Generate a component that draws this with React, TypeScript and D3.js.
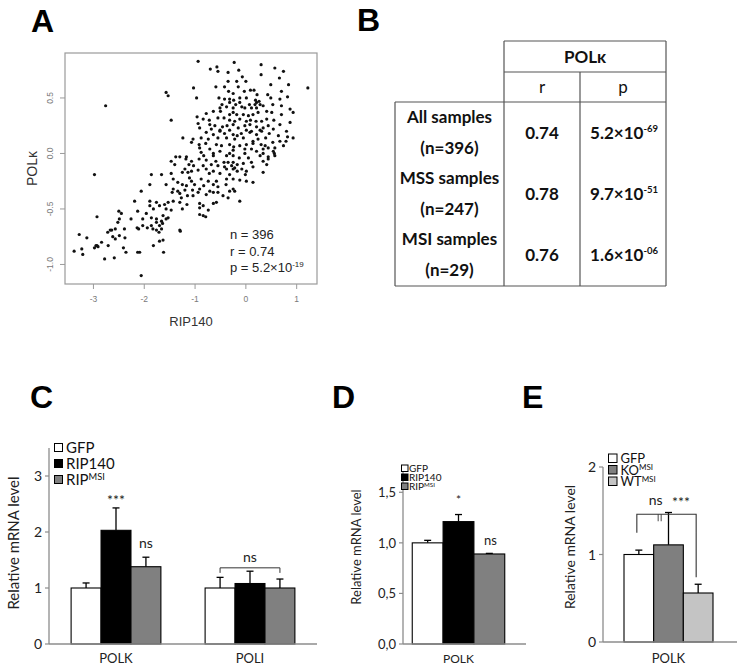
import React from 'react';
import * as d3 from 'd3';

// ---------- Panel A data (RIP140 vs POLκ) ----------
const scatterPoints: [number, number][] = [
  [-0.94,0.83],[-0.23,0.82],[0.30,0.80],[-0.57,0.78],[0.57,0.77],[-0.70,0.76],[-0.55,0.74],[-0.14,0.75],[-0.35,0.73],[0.74,0.74],[0.30,0.71],[-0.07,0.69],[0.66,0.68],[-0.18,0.65],[-0.35,0.65],[0.00,0.65],[0.84,0.62],[0.49,0.62],[-0.59,0.60],[-0.42,0.60],[-0.15,0.60],[-1.03,0.59],[1.22,0.59],
  [0.09,0.57],[0.16,0.57],[0.70,0.56],[-1.57,0.55],[-1.53,0.52],[-0.34,0.56],[-0.25,0.54],[-0.03,0.56],[0.22,0.53],[0.43,0.53],[-0.97,0.50],[-0.53,0.50],[-0.42,0.49],[-0.32,0.49],[-0.24,0.48],[-0.12,0.50],[0.01,0.50],[0.49,0.50],[0.67,0.49],[0.82,0.51],[0.19,0.48],[0.21,0.46],[0.26,0.47],[0.28,0.44],[0.18,0.44],[0.07,0.44],[-0.12,0.46],[-0.20,0.44],[-0.32,0.46],[-0.47,0.44],[-0.51,0.41],[-0.38,0.42],[-0.25,0.41],[-0.08,0.42],[-0.02,0.41],[0.11,0.41],[0.21,0.41],[0.34,0.43],[0.53,0.44],[0.70,0.43],[-2.76,0.43],[0.87,0.40],
  [-0.78,0.36],[-0.64,0.38],[-0.50,0.38],[-0.32,0.35],[-0.25,0.37],[-0.18,0.35],[-0.05,0.35],[0.05,0.34],[0.14,0.35],[0.24,0.37],[0.41,0.38],[0.51,0.37],[0.70,0.35],[0.93,0.37],[-0.96,0.33],[-0.84,0.31],[-0.72,0.30],[-0.55,0.32],[-0.43,0.32],[-0.32,0.30],[-0.22,0.29],[-0.12,0.31],[0.01,0.29],[0.09,0.30],[0.20,0.29],[0.31,0.29],[0.41,0.31],[0.55,0.30],[-1.47,0.30],[-0.94,0.27],[-0.71,0.26],[-0.61,0.25],[-0.46,0.24],[-0.37,0.25],[-0.25,0.26],[-0.15,0.23],[-0.02,0.25],[0.08,0.26],[0.21,0.24],[0.34,0.23],[0.44,0.25],[0.67,0.26],[0.87,0.28],[-0.91,0.23],[-0.68,0.22],[-0.51,0.21],[-0.32,0.21],[0.01,0.21],[0.11,0.20],[0.28,0.21],[0.54,0.22],[0.80,0.20],
  [-0.78,0.19],[-0.64,0.17],[-0.51,0.20],[-0.42,0.18],[-0.25,0.17],[-0.17,0.16],[-0.09,0.18],[0.08,0.19],[0.21,0.17],[0.31,0.20],[0.46,0.18],[0.64,0.16],[0.82,0.15],[0.93,0.14],[-1.24,0.14],[-1.04,0.13],[-0.88,0.14],[-0.74,0.13],[-0.55,0.14],[-0.38,0.14],[-0.22,0.13],[-0.05,0.14],[0.14,0.11],[0.24,0.13],[0.39,0.14],[0.53,0.10],[0.67,0.11],[0.79,0.11],[-1.07,0.10],[-0.92,0.08],[-0.79,0.09],[-0.58,0.08],[-0.48,0.07],[-0.32,0.08],[-0.24,0.06],[-0.12,0.07],[0.01,0.08],[0.14,0.09],[0.30,0.08],[0.38,0.07],[0.44,0.05],[0.57,0.05],[-0.91,0.05],[-0.71,0.04],[-0.51,0.02],[-0.25,0.03],[-0.02,0.04],[0.11,0.04],[0.21,0.02],[0.34,0.04],[0.54,0.02],[0.74,0.07],[-0.88,0.01],[-0.64,0.00],[-0.32,0.00],[-0.02,0.00],[0.34,0.00],[0.56,0.00],
  [-1.38,-0.03],[-1.30,-0.03],[-1.17,-0.03],[-0.83,-0.02],[-0.64,-0.02],[-0.38,-0.02],[-0.25,-0.02],[-0.13,-0.04],[0.05,-0.04],[0.28,-0.02],[0.44,-0.03],[0.57,-0.02],[-1.47,-0.07],[-1.18,-0.05],[-1.07,-0.07],[-0.92,-0.05],[-0.78,-0.06],[-0.59,-0.07],[-0.43,-0.08],[-0.35,-0.08],[-0.25,-0.08],[-0.17,-0.10],[-0.05,-0.09],[0.11,-0.08],[0.34,-0.07],[0.44,-0.05],[-1.40,-0.10],[-1.12,-0.10],[-1.03,-0.11],[-0.84,-0.11],[-0.68,-0.10],[-0.55,-0.11],[-0.42,-0.12],[-0.28,-0.11],[-0.22,-0.13],[-0.08,-0.14],[0.14,-0.12],[0.41,-0.10],[-1.20,-0.14],[-1.07,-0.16],[-0.94,-0.15],[-0.78,-0.14],[-0.64,-0.16],[-0.38,-0.14],[-0.25,-0.14],[-0.17,-0.16],[0.01,-0.16],[0.34,-0.17],[-1.66,-0.19],[-1.47,-0.18],[-1.25,-0.17],[-1.14,-0.17],[-0.72,-0.18],[-0.51,-0.18],[-0.32,-0.19],[-0.01,-0.19],[-2.98,-0.19],[-1.86,-0.19],
  [-1.11,-0.22],[-1.07,-0.25],[-0.88,-0.23],[-0.74,-0.25],[-0.58,-0.25],[-0.38,-0.23],[-0.25,-0.23],[-0.12,-0.24],[0.14,-0.26],[-1.43,-0.23],[-1.34,-0.26],[-1.25,-0.28],[-1.57,-0.28],[-1.17,-0.29],[-1.01,-0.28],[-0.83,-0.29],[-0.64,-0.28],[-0.55,-0.30],[-0.39,-0.28],[-0.25,-0.32],[0.01,-0.25],[-1.43,-0.32],[-1.34,-0.34],[-1.20,-0.33],[-1.05,-0.33],[-0.91,-0.32],[-0.71,-0.34],[-0.55,-0.35],[-0.32,-0.34],[-0.22,-0.34],[-2.06,-0.34],[-1.89,-0.28],[-2.19,-0.43],[-1.45,-0.35],[-1.30,-0.36],[-1.15,-0.38],[-1.04,-0.38],[-0.78,-0.37],[-0.64,-0.35],[-0.45,-0.38],[-0.35,-0.40],[-0.12,-0.43],[-1.27,-0.40],[-0.94,-0.35],
  [-1.89,-0.43],[-1.76,-0.44],[-1.70,-0.47],[-1.60,-0.46],[-1.53,-0.44],[-1.43,-0.43],[-1.30,-0.44],[-1.16,-0.46],[-0.91,-0.45],[-0.84,-0.47],[-0.64,-0.45],[-0.58,-0.44],[-1.89,-0.47],[-1.82,-0.50],[-1.57,-0.50],[-1.47,-0.51],[-1.25,-0.50],[-0.91,-0.49],[-0.74,-0.51],[-2.50,-0.52],[-2.45,-0.54],[-2.13,-0.52],[-1.96,-0.54],[-1.63,-0.56],[-1.53,-0.58],[-0.91,-0.55],[-0.84,-0.56],[-0.79,-0.57],[-2.93,-0.57],[-2.49,-0.59],[-2.26,-0.59],[-2.03,-0.59],[-1.86,-0.58],[-1.76,-0.59],[-1.66,-0.61],[-1.57,-0.59],
  [-2.52,-0.62],[-2.39,-0.68],[-2.57,-0.68],[-2.67,-0.69],[-2.64,-0.69],[-2.14,-0.67],[-2.11,-0.68],[-1.76,-0.62],[-1.70,-0.65],[-1.64,-0.63],[-1.83,-0.68],[-1.76,-0.69],[-1.71,-0.71],[-1.66,-0.68],[-1.30,-0.69],[-1.29,-0.70],[-2.03,-0.65],[-1.94,-0.67],[-1.86,-0.65],[-2.72,-0.71],[-2.62,-0.75],[-2.49,-0.74],[-2.38,-0.76],[-2.57,-0.77],[-2.71,-0.83],[-3.28,-0.73],[-2.93,-0.83],[-2.84,-0.80],[-1.70,-0.79],[-1.63,-0.78],[-1.82,-0.83],[-2.91,-0.84],
  [-3.23,-0.86],[-3.13,-0.76],[-3.21,-0.91],[-3.38,-0.88],[-2.98,-0.85],[-2.95,-0.83],[-2.41,-0.85],[-2.36,-0.89],[-2.78,-0.95],[-2.59,-0.94],[-2.13,-0.89],[-2.09,-0.89],[-1.62,-0.89],[-2.06,-1.10],
];
const scatterXTicks = [-3, -2, -1, 0, 1];
const scatterYTicks = [-1.0, -0.5, 0.0, 0.5];
const scatterYTickLabels = ['-1.0', '-0.5', '0.0', '0.5'];
const scatterStats = ['n = 396', 'r = 0.74'];
const scatterPStat = ['p = 5.2×10', '-19'];

// ---------- Panel B data ----------
const tableGroups = ['All samples', 'MSS samples', 'MSI samples'];
const tableN = ['(n=396)', '(n=247)', '(n=29)'];
const tableR = ['0.74', '0.78', '0.76'];
const tablePMantissa = ['5.2×10', '9.7×10', '1.6×10'];
const tablePExponent = ['-69', '-51', '-06'];

// ---------- Panel C data ----------
const cCategories = ['POLK', 'POLI'];
const cSeries = ['GFP', 'RIP140', 'RIPMSI'];
const cValues = [[1.0, 2.03, 1.38], [1.0, 1.08, 1.0]];
const cErrors = [[0.09, 0.40, 0.17], [0.19, 0.22, 0.16]];
const cYTicks = [0, 1, 2, 3];

// ---------- Panel D data ----------
const dCategories = ['POLK'];
const dSeries = ['GFP', 'RIP140', 'RIPMSI'];
const dValues = [1.0, 1.21, 0.89];
const dErrors = [0.025, 0.07, 0.006];
const dYTicks = [0, 0.5, 1.0, 1.5];
const dYTickLabels = ['0,0', '0,5', '1,0', '1,5'];

// ---------- Panel E data ----------
const eCategories = ['POLK'];
const eSeries = ['GFP', 'KOMSI', 'WTMSI'];
const eValues = [1.0, 1.11, 0.56];
const eErrors = [0.05, 0.37, 0.10];
const eYTicks = [0, 1, 2];

const FILL: Record<string, string> = {
  GFP: '#ffffff', RIP140: '#000000', RIPMSI: '#808080', KOMSI: '#7f7f7f', WTMSI: '#c4c4c4',
};

const ARIAL = '"Liberation Sans", Arial, sans-serif';
const CAL = 'Lato, "Open Sans", sans-serif';

function SeriesLabel({ name, sup }: { name: string; sup: number }) {
  if (name.endsWith('MSI')) {
    const base = name.slice(0, -3);
    return (
      <>
        {base}
        <tspan dy={-sup} fontSize="0.62em">MSI</tspan>
      </>
    );
  }
  return <>{name}</>;
}

function PanelLetter({ x, y, t }: { x: number; y: number; t: string }) {
  return (
    <text x={x} y={y} fontFamily={ARIAL} fontWeight={700} fontSize={32} fill="#000">{t}</text>
  );
}

function ScatterPanel() {
  const sx = d3.scaleLinear().domain([-3.56, 1.40]).range([65, 317]);
  const sy = d3.scaleLinear().domain([-1.176, 0.905]).range([284, 53]);
  const [x0, x1] = sx.range();
  const [y0, y1] = sy.range();
  return (
    <g>
      <rect x={x0} y={y1} width={x1 - x0} height={y0 - y1} fill="none" stroke="#9a9a9a" strokeWidth={1.2} />
      {scatterXTicks.map((t) => (
        <g key={'xt' + t}>
          <line x1={sx(t)} x2={sx(t)} y1={y0} y2={y0 + 5} stroke="#9a9a9a" />
          <text x={sx(t)} y={y0 + 18} textAnchor="middle" fontFamily={ARIAL} fontSize={8.5} fill="#7a7a7a">{t}</text>
        </g>
      ))}
      {scatterYTicks.map((t, i) => (
        <g key={'yt' + t}>
          <line x1={x0 - 5} x2={x0} y1={sy(t)} y2={sy(t)} stroke="#9a9a9a" />
          <text transform={`translate(${x0 - 12},${sy(t)}) rotate(-90)`} textAnchor="middle" fontFamily={ARIAL} fontSize={8.5} fill="#7a7a7a">{scatterYTickLabels[i]}</text>
        </g>
      ))}
      {scatterPoints.map((p, i) => (
        <circle key={i} cx={sx(p[0])} cy={sy(p[1])} r={1.6} fill="#111" />
      ))}
      <text transform={`translate(37,${(y0 + y1) / 2}) rotate(-90)`} textAnchor="middle" fontFamily={ARIAL} fontSize={14} fill="#333">POLκ</text>
      <text x={(x0 + x1) / 2} y={326} textAnchor="middle" fontFamily={ARIAL} fontSize={13} fill="#333">RIP140</text>
      {scatterStats.map((s, i) => (
        <text key={s} x={230} y={239 + i * 16.5} fontFamily={ARIAL} fontSize={13} fill="#222">{s}</text>
      ))}
      <text x={230} y={272} fontFamily={ARIAL} fontSize={13} fill="#222">
        {scatterPStat[0]}<tspan dy={-5} fontSize={8}>{scatterPStat[1]}</tspan>
      </text>
    </g>
  );
}

function TablePanel() {
  const xL = 395, xA = 504, xB = 580, xR = 666;
  const yTop = 41, yH = 72, yBody = 102, yBot = 286;
  const rowY = d3.scaleBand<number>().domain(tableGroups.map((_, i) => i)).range([yBody, yBot]);
  const stroke = '#555';
  return (
    <g fontFamily={CAL} fill="#111">
      <line x1={xA} x2={xR} y1={yTop} y2={yTop} stroke={stroke} strokeWidth={1.2} />
      <line x1={xA} x2={xR} y1={yH} y2={yH} stroke={stroke} strokeWidth={1.2} />
      <line x1={xL} x2={xR} y1={yBody} y2={yBody} stroke={stroke} strokeWidth={1.2} />
      <line x1={xL} x2={xR} y1={yBot} y2={yBot} stroke={stroke} strokeWidth={1.2} />
      <line x1={xA} x2={xA} y1={yTop} y2={yBot} stroke={stroke} strokeWidth={1.2} />
      <line x1={xR} x2={xR} y1={yTop} y2={yBot} stroke={stroke} strokeWidth={1.2} />
      <line x1={xB} x2={xB} y1={yH} y2={yBot} stroke={stroke} strokeWidth={1.2} />
      <line x1={xL} x2={xL} y1={yBody} y2={yBot} stroke={stroke} strokeWidth={1.2} />
      <text x={(xA + xR) / 2} y={63} textAnchor="middle" fontWeight={700} fontSize={17}>POLκ</text>
      <text x={(xA + xB) / 2} y={93} textAnchor="middle" fontSize={17}>r</text>
      <text x={(xB + xR) / 2} y={93} textAnchor="middle" fontSize={17}>p</text>
      {tableGroups.map((g, i) => {
        const top = rowY(i)!;
        const mid = top + rowY.bandwidth() / 2;
        return (
          <g key={g} fontWeight={700} fontSize={17}>
            <text x={(xL + xA) / 2} y={mid - 10} textAnchor="middle">{g}</text>
            <text x={(xL + xA) / 2} y={mid + 21} textAnchor="middle">{tableN[i]}</text>
            <text x={(xA + xB) / 2} y={mid + 6} textAnchor="middle">{tableR[i]}</text>
            <text x={(xB + xR) / 2 + 1} y={mid + 6} textAnchor="middle">
              {tablePMantissa[i]}<tspan dy={-7} fontSize={9.5}>{tablePExponent[i]}</tspan>
            </text>
          </g>
        );
      })}
    </g>
  );
}

type BarProps = {
  categories: string[];
  series: string[];
  values: number[][];
  errors: number[][];
  y: d3.ScaleLinear<number, number>;
  x: d3.ScaleBand<string>;
  axisX0: number;
  axisX1: number;
};

function Bars({ categories, series, values, errors, y, x, axisX0, axisX1 }: BarProps) {
  const inner = d3.scaleBand<string>().domain(series).range([0, x.bandwidth()]);
  const base = y(0);
  return (
    <g>
      {categories.map((c, ci) => (
        <g key={c}>
          {series.map((s, si) => {
            const v = values[ci][si];
            const e = errors[ci][si];
            const bx = x(c)! + inner(s)!;
            const cx = bx + inner.bandwidth() / 2;
            return (
              <g key={s}>
                <line x1={cx} x2={cx} y1={y(v)} y2={y(v + e)} stroke="#000" strokeWidth={1.3} />
                <line x1={cx - 3.5} x2={cx + 3.5} y1={y(v + e)} y2={y(v + e)} stroke="#000" strokeWidth={1.3} />
                <rect x={bx} y={y(v)} width={inner.bandwidth()} height={base - y(v)} fill={FILL[s]} stroke="#000" strokeWidth={1.1} />
              </g>
            );
          })}
        </g>
      ))}
      <line x1={axisX0} x2={axisX1} y1={base} y2={base} stroke="#8c8c8c" strokeWidth={1.3} />
    </g>
  );
}

function YAxis({ y, ticks, labels, x0, fontSize }: { y: d3.ScaleLinear<number, number>; ticks: number[]; labels: string[]; x0: number; fontSize: number }) {
  const [b, t] = y.range();
  return (
    <g>
      <line x1={x0} x2={x0} y1={b} y2={t} stroke="#8c8c8c" strokeWidth={1.3} />
      {ticks.map((tk, i) => (
        <g key={tk}>
          <line x1={x0 - 4} x2={x0} y1={y(tk)} y2={y(tk)} stroke="#8c8c8c" strokeWidth={1.2} />
          <text x={x0 - 7} y={y(tk) + fontSize * 0.36} textAnchor="end" fontFamily={CAL} fontSize={fontSize} fill="#222">{labels[i]}</text>
        </g>
      ))}
    </g>
  );
}

function PanelC() {
  const y = d3.scaleLinear().domain([0, 3.5]).range([644, 448]);
  const x = d3.scaleBand<string>().domain(cCategories).range([49, 317]).paddingInner(0.33).paddingOuter(0.165);
  const inner = d3.scaleBand<string>().domain(cSeries).range([0, x.bandwidth()]);
  const ctr = (c: string, s: string) => x(c)! + inner(s)! + inner.bandwidth() / 2;
  const bracketLevel = 1.36, bracketLeg = 1.27;
  return (
    <g fontFamily={CAL}>
      <YAxis y={y} ticks={cYTicks} labels={cYTicks.map(String)} x0={49} fontSize={14} />
      <Bars categories={cCategories} series={cSeries} values={cValues} errors={cErrors} y={y} x={x} axisX0={49} axisX1={317} />
      {cCategories.map((c) => (
        <text key={c} x={x(c)! + x.bandwidth() / 2} y={663} textAnchor="middle" fontSize={13} fill="#222">{c}</text>
      ))}
      <text transform="translate(19,543) rotate(-90)" textAnchor="middle" fontSize={15} fill="#222">Relative mRNA level</text>
      {cSeries.map((s, i) => (
        <g key={s}>
          <rect x={54.5} y={443.5 + i * 16} width={8} height={8} fill={FILL[s]} stroke="#000" strokeWidth={1} />
          <text x={66} y={453 + i * 16} fontSize={15} fill="#111"><SeriesLabel name={s} sup={5} /></text>
        </g>
      ))}
      <text x={ctr('POLK', 'RIP140')} y={505} textAnchor="middle" fontSize={14} fill="#222">***</text>
      <text x={ctr('POLK', 'RIPMSI')} y={548} textAnchor="middle" fontSize={14} fill="#222">ns</text>
      <path d={`M${ctr('POLI', 'GFP')},${y(bracketLeg)}V${y(bracketLevel)}H${ctr('POLI', 'RIPMSI')}V${y(bracketLeg)}`} fill="none" stroke="#333" strokeWidth={1} />
      <text x={ctr('POLI', 'RIP140')} y={562} textAnchor="middle" fontSize={14} fill="#222">ns</text>
    </g>
  );
}

function PanelD() {
  const y = d3.scaleLinear().domain([0, 1.75]).range([644, 467]);
  const x = d3.scaleBand<string>().domain(dCategories).range([403, 514]).paddingInner(0).paddingOuter(0.1);
  const inner = d3.scaleBand<string>().domain(dSeries).range([0, x.bandwidth()]);
  const ctr = (s: string) => x('POLK')! + inner(s)! + inner.bandwidth() / 2;
  return (
    <g fontFamily={CAL}>
      <YAxis y={y} ticks={dYTicks} labels={dYTickLabels} x0={403} fontSize={13} />
      <Bars categories={dCategories} series={dSeries} values={[dValues]} errors={[dErrors]} y={y} x={x} axisX0={403} axisX1={526} />
      <text x={x('POLK')! + x.bandwidth() / 2} y={663} textAnchor="middle" fontSize={12} fill="#222">POLK</text>
      <text transform="translate(361,547) rotate(-90)" textAnchor="middle" fontSize={13} fill="#222">Relative mRNA level</text>
      {dSeries.map((s, i) => (
        <g key={s}>
          <rect x={401.5} y={465 + i * 9} width={6.5} height={6.5} fill={FILL[s]} stroke="#000" strokeWidth={1} />
          <text x={409} y={472 + i * 9} fontSize={10} fill="#111"><SeriesLabel name={s} sup={3} /></text>
        </g>
      ))}
      <text x={ctr('RIP140')} y={504} textAnchor="middle" fontSize={12} fill="#222">*</text>
      <text x={ctr('RIPMSI') + 1} y={545} textAnchor="middle" fontSize={13} fill="#222">ns</text>
    </g>
  );
}

function PanelE() {
  const y = d3.scaleLinear().domain([0, 2]).range([642, 467]);
  const x = d3.scaleBand<string>().domain(eCategories).range([603, 734]).paddingInner(0).paddingOuter(0.236);
  const inner = d3.scaleBand<string>().domain(eSeries).range([0, x.bandwidth()]);
  const ctr = (s: string) => x('POLK')! + inner(s)! + inner.bandwidth() / 2;
  const level = 1.46, legL = 1.25, legR = 0.74, midTick = 1.38;
  const xl = ctr('GFP') - 2, xr = ctr('WTMSI') - 2;
  const xm = (ctr('GFP') + ctr('KOMSI')) / 2 + 6;
  return (
    <g fontFamily={CAL}>
      <YAxis y={y} ticks={eYTicks} labels={eYTicks.map(String)} x0={603} fontSize={14} />
      <Bars categories={eCategories} series={eSeries} values={[eValues]} errors={[eErrors]} y={y} x={x} axisX0={603} axisX1={737} />
      <text x={x('POLK')! + x.bandwidth() / 2} y={663} textAnchor="middle" fontSize={13} fill="#222">POLK</text>
      <text transform="translate(575,547) rotate(-90)" textAnchor="middle" fontSize={14} fill="#222">Relative mRNA level</text>
      {eSeries.map((s, i) => (
        <g key={s}>
          <rect x={608.5} y={454 + i * 11.5} width={8.5} height={8.5} fill={FILL[s]} stroke="#000" strokeWidth={1} />
          <text x={620.5} y={463 + i * 11.5} fontSize={13} fill="#111"><SeriesLabel name={s} sup={4.5} /></text>
        </g>
      ))}
      <path d={`M${xl},${y(legL)}V${y(level)}H${xr}V${y(legR)}`} fill="none" stroke="#333" strokeWidth={1.1} />
      <line x1={xm - 1.5} x2={xm - 1.5} y1={y(level)} y2={y(midTick)} stroke="#333" strokeWidth={0.9} />
      <line x1={xm + 1.5} x2={xm + 1.5} y1={y(level)} y2={y(midTick)} stroke="#333" strokeWidth={0.9} />
      <text x={xm - 4} y={505} textAnchor="middle" fontSize={14} fill="#222">ns</text>
      <text x={(xm + xr) / 2 + 3} y={507} textAnchor="middle" fontSize={14} fill="#222">***</text>
    </g>
  );
}

export default function App() {
  return (
    <svg width={737} height={671} viewBox="0 0 737 671" style={{ position: 'absolute', left: 0, top: 0, display: 'block', background: '#fff' }}>
      <rect x={0} y={0} width={737} height={671} fill="#fff" />
      <PanelLetter x={31} y={32} t="A" />
      <PanelLetter x={357} y={31} t="B" />
      <PanelLetter x={30} y={408} t="C" />
      <PanelLetter x={332} y={408} t="D" />
      <PanelLetter x={522} y={408} t="E" />
      <ScatterPanel />
      <TablePanel />
      <PanelC />
      <PanelD />
      <PanelE />
    </svg>
  );
}
